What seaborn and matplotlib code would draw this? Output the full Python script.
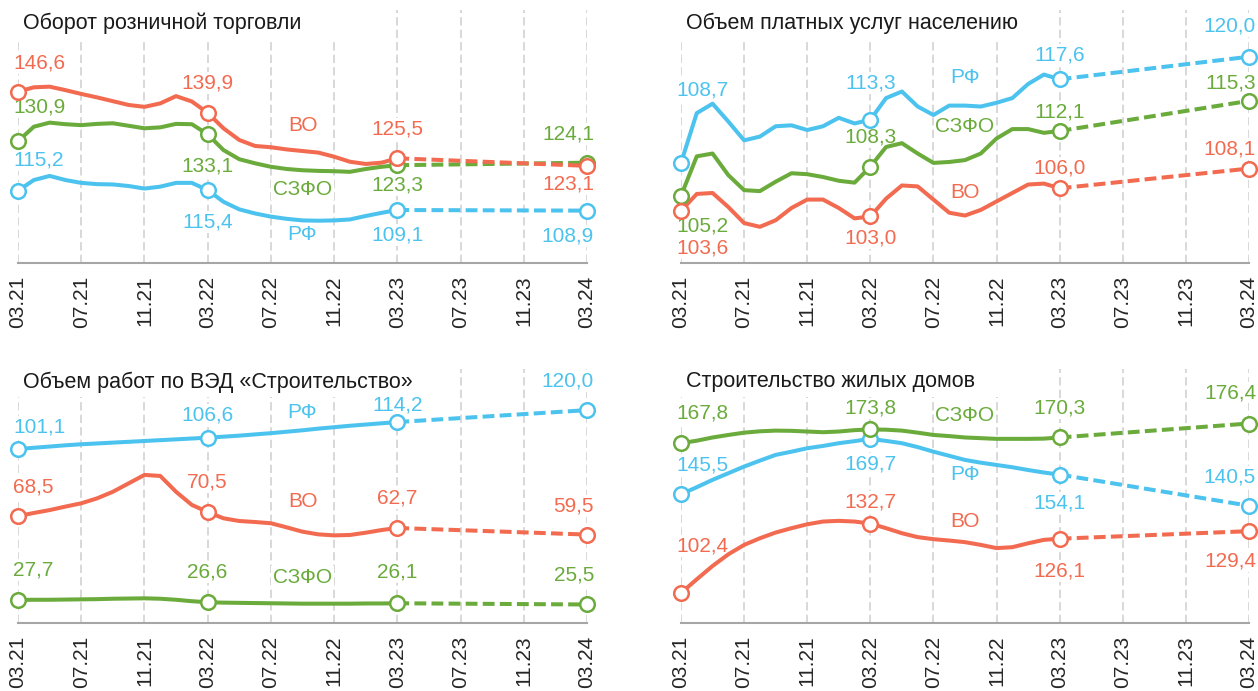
import numpy as np
import pandas as pd
import matplotlib
matplotlib.use("Agg")
import matplotlib.pyplot as plt
from matplotlib.patches import Rectangle
import seaborn as sns

# --- DATA (monthly, 03.21 .. 03.23, plus the 03.24 point) ---
regions = ["РФ", "СЗФО", "ВО"]
tick_labels = ["03.21", "07.21", "11.21", "03.22", "07.22", "11.22",
               "03.23", "07.23", "11.23", "03.24"]

retail_rf = [115.2, 118.6, 119.9, 118.6, 117.7, 117.3, 117.2, 116.7, 115.9, 116.5, 117.7, 117.7, 115.4,
             111.7, 109.3, 108.0, 107.0, 106.3, 105.8, 105.7, 105.8, 106.1, 107.2, 108.2, 109.1]
retail_szfo = [130.9, 135.5, 136.8, 136.3, 136.0, 136.4, 136.6, 135.8, 135.0, 135.3, 136.4, 136.3, 133.1,
               128.1, 125.2, 123.9, 122.8, 122.1, 121.7, 121.5, 121.4, 121.2, 122.1, 122.8, 123.3]
retail_vo = [146.6, 148.0, 148.2, 147.1, 145.9, 144.8, 143.6, 142.4, 141.8, 142.9, 145.2, 143.5, 139.9,
             135.0, 131.3, 129.4, 129.0, 128.3, 127.8, 127.3, 126.0, 124.4, 123.7, 124.1, 125.5]
retail_mar24 = [108.9, 124.1, 123.1]

services_rf = [108.7, 114.0, 115.0, 113.1, 111.1, 111.5, 112.6, 112.7, 112.2, 112.6, 113.5, 112.9, 113.3,
               115.6, 116.3, 114.7, 113.8, 114.8, 114.8, 114.7, 115.1, 115.6, 117.1, 118.1, 117.6]
services_szfo = [105.2, 109.4, 109.7, 107.4, 105.8, 105.7, 106.7, 107.6, 107.5, 107.2, 106.8, 106.6, 108.3,
                 110.4, 110.8, 109.7, 108.7, 108.8, 109.0, 109.7, 111.3, 112.3, 112.3, 111.9, 112.1]
services_vo = [103.6, 105.4, 105.5, 104.0, 102.3, 101.9, 102.6, 103.9, 104.8, 104.8, 103.9, 102.8, 103.0,
               104.9, 106.3, 106.2, 104.8, 103.4, 103.1, 103.7, 104.6, 105.5, 106.4, 106.5, 106.0]
services_mar24 = [120.0, 115.3, 108.1]

works_rf = [101.1, 101.7, 102.3, 102.9, 103.4, 103.8, 104.2, 104.6, 105.0, 105.4, 105.8, 106.2, 106.6,
            107.1, 107.6, 108.2, 108.8, 109.5, 110.2, 111.0, 111.7, 112.4, 113.0, 113.6, 114.2]
works_szfo = [27.7, 27.8, 27.8, 27.9, 28.0, 28.1, 28.3, 28.4, 28.5, 28.3, 27.8, 27.1, 26.6,
              26.4, 26.3, 26.2, 26.1, 26.0, 25.9, 25.9, 25.9, 25.9, 26.0, 26.0, 26.1]
works_vo = [68.5, 70.0, 71.4, 73.1, 74.7, 77.1, 80.3, 84.4, 88.5, 88.0, 80.3, 73.9, 70.5,
            67.4, 66.1, 65.6, 65.0, 63.0, 60.9, 59.6, 59.1, 59.3, 60.4, 61.7, 62.7]
works_mar24 = [120.0, 25.5, 59.5]

housing_rf = [145.5, 148.6, 151.8, 154.7, 157.6, 160.2, 162.7, 164.1, 165.6, 166.6, 167.8, 168.7, 169.7,
              168.8, 167.8, 166.1, 164.1, 162.3, 160.5, 159.3, 158.3, 157.3, 156.1, 155.0, 154.1]
housing_szfo = [167.8, 168.9, 170.3, 171.4, 172.4, 173.0, 173.3, 173.2, 172.9, 172.6, 172.9, 173.5, 173.8,
                173.7, 173.3, 172.4, 171.4, 170.9, 170.3, 170.0, 169.7, 169.7, 169.7, 169.8, 170.3]
housing_vo = [102.4, 108.4, 114.2, 119.3, 123.4, 126.3, 128.8, 130.7, 132.4, 133.6, 133.9, 133.6, 132.7,
              130.7, 128.5, 126.8, 125.9, 125.3, 124.6, 123.4, 122.0, 122.4, 124.1, 125.6, 126.1]
housing_mar24 = [140.5, 176.4, 129.4]

# --- STYLE ---
sns.set_style("white")
plt.rcParams["font.family"] = ["Liberation Sans", "DejaVu Sans"]
plt.rcParams["lines.scale_dashes"] = False

colors = {"РФ": "#4cc3ee", "СЗФО": "#6aab3c", "ВО": "#f26b50"}
FS = 15
LW = 2.9

# layout: axes rect, ylim, label offsets (px, up = +) for 03.21/03.22/03.23/03.24,
# y of the region names (axes fraction), width of the white box behind the title
panels = [
    dict(title="Оборот розничной торговли",
         series=[retail_rf, retail_szfo, retail_vo], mar24=retail_mar24,
         rect=[18 / 1258, 0.6194, 569 / 1258, 0.3661], ylim=(92.3, 172.5),
         offsets={"РФ": [31, -32, -25, -25], "СЗФО": [34, -32, -20, 29], "ВО": [29, 30, 29, -18]},
         names={"РФ": 0.111, "СЗФО": 0.292, "ВО": 0.545}, mask=0.583),
    dict(title="Объем платных услуг населению",
         series=[services_rf, services_szfo, services_vo], mar24=services_mar24,
         rect=[681 / 1258, 0.6194, 568 / 1258, 0.3661], ylim=(98.05, 124.97),
         offsets={"РФ": [73, 37, 24, 31], "СЗФО": [-30, 30, 19, 18], "ВО": [-37, -22, 20, 20]},
         names={"РФ": 0.735, "СЗФО": 0.538, "ВО": 0.277}, mask=0.623),
    dict(title="Объем работ по ВЭД «Строительство»",
         series=[works_rf, works_szfo, works_vo], mar24=works_mar24,
         rect=[18 / 1258, 0.0984, 569 / 1258, 0.3676], ylim=(16.5, 140.0),
         offsets={"РФ": [22, 23, 17, 29], "СЗФО": [30, 30, 31, 29], "ВО": [29, 30, 30, 29]},
         names={"РФ": 0.828, "СЗФО": 0.180, "ВО": 0.478}, mask=0.715),
    dict(title="Строительство жилых домов",
         series=[housing_rf, housing_szfo, housing_vo], mar24=housing_mar24,
         rect=[681 / 1258, 0.0984, 568 / 1258, 0.3676], ylim=(89.3, 200.2),
         offsets={"РФ": [29, -25, -28, 29], "СЗФО": [30, 21, 29, 31], "ВО": [47, 22, -32, -30]},
         names={"РФ": 0.583, "СЗФО": 0.815, "ВО": 0.399}, mask=0.606),
]


def fmt(v):
    return f"{v:.1f}".replace(".", ",")


def draw_panel(ax, p):
    # actual data, 03.21 - 03.23
    rows = []
    for reg, vals in zip(regions, p["series"]):
        for m, v in enumerate(vals):
            rows.append((reg, m, v))
    df = pd.DataFrame(rows, columns=["region", "month", "value"])
    sns.lineplot(data=df, x="month", y="value", hue="region", palette=colors,
                 linewidth=LW, legend=False, ax=ax, zorder=3)

    # 03.23 -> 03.24, dashed
    for reg, vals, last in zip(regions, p["series"], p["mar24"]):
        fc = pd.DataFrame({"month": [len(vals) - 1, 36], "value": [vals[-1], last]})
        sns.lineplot(data=fc, x="month", y="value", color=colors[reg], linewidth=LW,
                     linestyle=(0, (8.5, 3.8)), ax=ax, zorder=3)

    # hollow markers and value labels (labels sit under the lines, over the grid)
    for reg, vals, last in zip(regions, p["series"], p["mar24"]):
        pts = pd.DataFrame({"month": [0, 12, 24, 36], "value": [vals[0], vals[12], vals[24], last]})
        sns.scatterplot(data=pts, x="month", y="value", color="white", edgecolor=colors[reg],
                        s=110, linewidth=1.8, ax=ax, zorder=4, clip_on=False, legend=False)
        for i, (m, v) in enumerate(zip(pts["month"], pts["value"])):
            if i == 0:
                ha, dx = "left", -5
            elif i == 3:
                ha, dx = "right", 7
            else:
                ha, dx = "center", 0
            ax.annotate(fmt(v), xy=(m, v), xytext=(dx, p["offsets"][reg][i]),
                        textcoords="offset pixels", ha=ha, va="center", fontsize=FS,
                        color=colors[reg], zorder=2.5, annotation_clip=False,
                        bbox=dict(facecolor="white", edgecolor="none", pad=1))
        ax.text(0.5, p["names"][reg], reg, transform=ax.transAxes, ha="center", va="center",
                fontsize=FS, color=colors[reg], zorder=2.5,
                bbox=dict(facecolor="white", edgecolor="none", pad=1))

    # vertical dashed grid
    for x in range(0, 37, 4):
        ax.axvline(x, color="#d6d6d6", linewidth=1.3, linestyle=(0, (6, 3)), zorder=0.5)

    # title with a white box hiding the grid behind it
    ax.add_patch(Rectangle((-0.02, 0.889), p["mask"] + 0.02, 0.13, transform=ax.transAxes,
                           facecolor="white", edgecolor="none", zorder=1, clip_on=False))
    ax.text(0.008, 0.949, p["title"], transform=ax.transAxes, ha="left", va="center",
            fontsize=15.5, color="#1a1a1a", zorder=2)

    ax.set_xlim(0, 36)
    ax.set_ylim(*p["ylim"])
    ax.set_xticks(range(0, 37, 4))
    ax.set_xticklabels(tick_labels, rotation=90, fontsize=FS, color="#262626")
    ax.set_yticks([])
    ax.set_xlabel("")
    ax.set_ylabel("")
    for side in ["left", "top", "right"]:
        ax.spines[side].set_visible(False)
    ax.spines["bottom"].set_color("#a6a6a6")
    ax.spines["bottom"].set_linewidth(1.5)
    ax.tick_params(axis="x", length=6, width=1.3, color="#a6a6a6", pad=3)


fig = plt.figure(figsize=(12.58, 6.91), dpi=100)
for p in panels:
    ax = fig.add_axes(p["rect"])
    draw_panel(ax, p)

fig.savefig("out.png", dpi=100, facecolor="white")
